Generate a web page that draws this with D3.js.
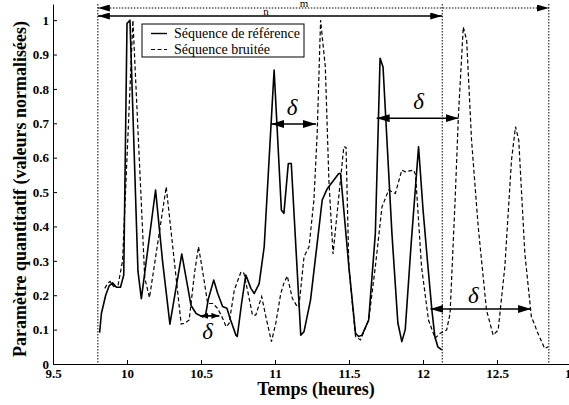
<!DOCTYPE html>
<html>
<head>
<meta charset="utf-8">
<script src="https://cdn.jsdelivr.net/npm/d3@7"></script>
<style>
  body { margin: 0; background: #fff; }
  svg { display: block; font-family: "Liberation Serif", "Times New Roman", serif; }
</style>
</head>
<body>
<svg id="chart" width="569" height="405"></svg>
<script>
// Séquence de référence (trait plein)
const refTime = [9.815, 9.827, 9.856, 9.879, 9.902, 9.929, 9.956, 9.978, 10.0, 10.02, 10.074, 10.097, 10.193, 10.24, 10.29,
  10.37, 10.433, 10.467, 10.51, 10.53, 10.55, 10.586, 10.613, 10.646, 10.675, 10.70, 10.736, 10.745, 10.774, 10.803,
  10.837, 10.86, 10.893, 10.927, 10.994, 11.043, 11.06, 11.09, 11.11, 11.174, 11.196, 11.24, 11.285, 11.319, 11.353,
  11.431, 11.443, 11.499, 11.544, 11.565, 11.588, 11.633, 11.678, 11.71, 11.73, 11.79, 11.83, 11.857, 11.88, 11.92,
  11.97, 12.0, 12.03, 12.06, 12.08, 12.1, 12.127];
const refValue = [0.091, 0.147, 0.2, 0.227, 0.236, 0.223, 0.223, 0.259, 0.99, 1.0, 0.27, 0.19, 0.506, 0.3, 0.116,
  0.32, 0.17, 0.147, 0.137, 0.14, 0.19, 0.244, 0.205, 0.167, 0.162, 0.128, 0.084, 0.08, 0.176, 0.259,
  0.22, 0.205, 0.234, 0.341, 0.855, 0.448, 0.438, 0.583, 0.583, 0.084, 0.094, 0.186, 0.351, 0.477, 0.51,
  0.554, 0.554, 0.283, 0.089, 0.08, 0.084, 0.128, 0.38, 0.889, 0.864, 0.38, 0.12, 0.065, 0.1, 0.35,
  0.632, 0.45, 0.3, 0.157, 0.08, 0.05, 0.041];

// Séquence bruitée (pointillés)
const noisyTime = [9.85, 9.87, 9.885, 9.91, 9.94, 9.97, 10.04, 10.12, 10.152, 10.265, 10.366, 10.388, 10.42, 10.456,
  10.483, 10.51, 10.545, 10.58, 10.612, 10.646, 10.67, 10.69, 10.725, 10.77, 10.79, 10.814, 10.848, 10.87, 10.91,
  10.938, 10.976, 11.005, 11.039, 11.06, 11.083, 11.117, 11.15, 11.162, 11.196, 11.23, 11.263, 11.285, 11.308, 11.34,
  11.364, 11.392, 11.465, 11.48, 11.499, 11.544, 11.577, 11.633, 11.678, 11.723, 11.768, 11.813, 11.857, 11.88, 11.936,
  11.95, 11.99, 12.037, 12.082, 12.115, 12.16, 12.183, 12.217, 12.239, 12.272, 12.295, 12.328, 12.373, 12.429, 12.474,
  12.508, 12.553, 12.598, 12.625, 12.647, 12.688, 12.732, 12.777, 12.822, 12.845];
const noisyValue = [0.22, 0.235, 0.24, 0.225, 0.23, 0.3, 1.0, 0.25, 0.193, 0.515, 0.116, 0.118, 0.128, 0.264,
  0.341, 0.273, 0.176, 0.176, 0.162, 0.133, 0.108, 0.118, 0.215, 0.268, 0.264, 0.215, 0.142, 0.142, 0.196,
  0.138, 0.065, 0.118, 0.205, 0.235, 0.256, 0.191, 0.167, 0.167, 0.312, 0.341, 0.477, 0.67, 1.0, 0.864,
  0.535, 0.32, 0.632, 0.63, 0.283, 0.08, 0.07, 0.128, 0.283, 0.457, 0.506, 0.496, 0.564, 0.559, 0.564,
  0.55, 0.283, 0.128, 0.075, 0.089, 0.099, 0.147, 0.477, 0.719, 0.98, 0.942, 0.651, 0.399, 0.157, 0.084,
  0.099, 0.283, 0.593, 0.69, 0.651, 0.322, 0.138, 0.089, 0.045, 0.05];

const xTicks = [9.5, 10, 10.5, 11, 11.5, 12, 12.5, 13];
const yTicks = [0, 0.1, 0.2, 0.3, 0.4, 0.5, 0.6, 0.7, 0.8, 0.9, 1];
const seriesNames = ['Séquence de référence', 'Séquence bruitée'];

// fenêtres n et m (début commun, fin de n, fin de m)
const windowStart = 9.803;
const windowEnds = [12.13, 12.85];
const windowLabels = ['n', 'm'];

// flèches delta : début, fin, niveau, position du libellé
const deltaStart = [10.496, 10.974, 11.687, 12.05];
const deltaEnd = [10.624, 11.277, 12.24, 12.73];
const deltaLevel = [0.14, 0.698, 0.715, 0.16];
const deltaLabelT = [10.545, 11.115, 11.97, 12.34];
const deltaLabelV = [0.072, 0.725, 0.742, 0.177];

const svg = d3.select('#chart');

const x = d3.scaleLinear().domain([9.5, 13]).range([53, 571]);
const y = d3.scaleLinear().domain([0, 1.047]).range([364, 4]);

// arrowheads
const defs = svg.append('defs');
function marker(id, len, half) {
  defs.append('marker')
    .attr('id', id)
    .attr('viewBox', `0 ${-half} ${len} ${half * 2}`)
    .attr('refX', len).attr('refY', 0)
    .attr('markerWidth', len).attr('markerHeight', half * 2)
    .attr('markerUnits', 'userSpaceOnUse')
    .attr('orient', 'auto-start-reverse')
    .append('path')
    .attr('d', `M0,${-half}L${len},0L0,${half}Z`)
    .attr('fill', '#000').attr('stroke', 'none');
}
marker('head', 13, 4);
marker('headSmall', 8, 3);
marker('headTop', 12, 3.5);

// axes (ticks pointing inward)
svg.append('g')
  .attr('transform', `translate(0,${y(0)})`)
  .call(d3.axisBottom(x).tickValues(xTicks).tickSizeInner(-4).tickSizeOuter(0).tickPadding(5)
    .tickFormat(d => String(d)))
  .call(g => g.selectAll('text').attr('font-size', 13).attr('font-weight', 'bold')
    .attr('font-family', '"Liberation Serif", serif').attr('fill', '#000'));

svg.append('g')
  .attr('transform', `translate(${x(9.5)},0)`)
  .call(d3.axisLeft(y).tickValues(yTicks).tickSizeInner(-4).tickSizeOuter(0).tickPadding(4)
    .tickFormat(d => String(d)))
  .call(g => g.selectAll('text').attr('font-size', 13).attr('font-weight', 'bold')
    .attr('font-family', '"Liberation Serif", serif').attr('fill', '#000'));

// vertical dotted limits
[windowStart, ...windowEnds].forEach(t => {
  svg.append('line')
    .attr('x1', x(t)).attr('x2', x(t))
    .attr('y1', 4).attr('y2', y(0))
    .attr('stroke', '#000').attr('stroke-width', 1)
    .attr('stroke-dasharray', '1.5,1.5');
});

// n / m windows at the top
const topY = [16, 8];
windowEnds.forEach((t, i) => {
  svg.append('line')
    .attr('x1', x(windowStart)).attr('x2', x(t))
    .attr('y1', topY[i]).attr('y2', topY[i])
    .attr('stroke', '#000')
    .attr('stroke-width', i === 0 ? 1.5 : 1)
    .attr('stroke-dasharray', i === 0 ? null : '1.5,1.5')
    .attr('marker-start', 'url(#headTop)')
    .attr('marker-end', 'url(#headTop)');
});
svg.append('text').attr('x', 266).attr('y', 14.5).attr('text-anchor', 'middle')
  .attr('font-size', 11).text(windowLabels[0]);
svg.append('text').attr('x', 304).attr('y', 7).attr('text-anchor', 'middle')
  .attr('font-size', 11).text(windowLabels[1]);

// curves
const line = d3.line().x(d => x(d[0])).y(d => y(d[1]));
const refData = refTime.map((t, i) => [t, refValue[i]]);
const noisyData = noisyTime.map((t, i) => [t, noisyValue[i]]);

svg.append('path').datum(noisyData)
  .attr('d', line).attr('fill', 'none')
  .attr('stroke', '#000').attr('stroke-width', 1.2)
  .attr('stroke-dasharray', '4,2.5');

svg.append('path').datum(refData)
  .attr('d', line).attr('fill', 'none')
  .attr('stroke', '#000').attr('stroke-width', 1.6)
  .attr('stroke-linejoin', 'round');

// delta arrows
deltaStart.forEach((t0, i) => {
  svg.append('line')
    .attr('x1', x(t0)).attr('x2', x(deltaEnd[i]))
    .attr('y1', y(deltaLevel[i])).attr('y2', y(deltaLevel[i]))
    .attr('stroke', '#000').attr('stroke-width', i === 0 ? 1.8 : 1.5)
    .attr('marker-start', i === 0 ? 'url(#headSmall)' : 'url(#head)')
    .attr('marker-end', i === 0 ? 'url(#headSmall)' : 'url(#head)');
  svg.append('text')
    .attr('x', x(deltaLabelT[i])).attr('y', y(deltaLabelV[i]))
    .attr('text-anchor', 'middle')
    .attr('font-size', 23).attr('font-style', 'italic')
    .text('δ');
});

// legend
const legend = svg.append('g').attr('transform', 'translate(142,24)');
legend.append('rect').attr('width', 162).attr('height', 33)
  .attr('fill', '#fff').attr('stroke', '#000').attr('stroke-width', 1);
seriesNames.forEach((name, i) => {
  const row = legend.append('g').attr('transform', `translate(0,${9.5 + i * 16})`);
  row.append('line').attr('x1', 9).attr('x2', 25).attr('y1', 0).attr('y2', 0)
    .attr('stroke', '#000').attr('stroke-width', i === 0 ? 1.4 : 1.2)
    .attr('stroke-dasharray', i === 0 ? null : '4,2.5');
  row.append('text').attr('x', 32).attr('y', 4.5)
    .attr('font-size', 14).text(name);
});

// axis titles
svg.append('text')
  .attr('x', 316).attr('y', 395)
  .attr('text-anchor', 'middle')
  .attr('font-size', 18).attr('font-weight', 'bold')
  .text('Temps (heures)');

svg.append('text')
  .attr('transform', 'translate(26,189) rotate(-90)')
  .attr('text-anchor', 'middle')
  .attr('font-size', 18).attr('font-weight', 'bold')
  .text('Paramètre quantitatif (valeurs normalisées)');
</script>
</body>
</html>
